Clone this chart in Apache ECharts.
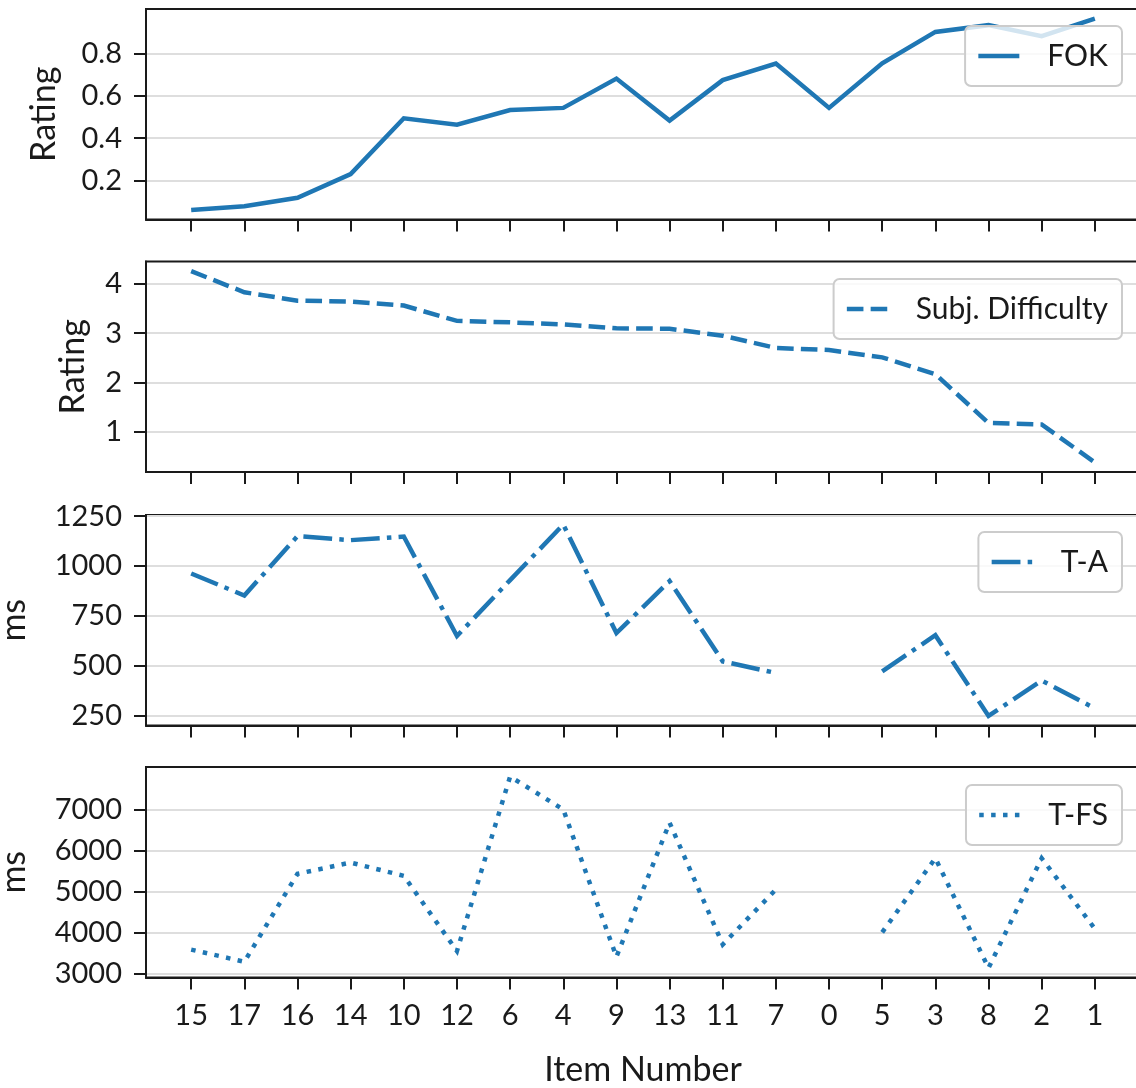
<!DOCTYPE html>
<html>
<head>
<meta charset="utf-8">
<script src="https://cdn.jsdelivr.net/npm/echarts@6/dist/echarts.min.js"></script>
<style>
  html, body { margin: 0; padding: 0; background: #ffffff; }
  #chart { width: 1136px; height: 1088px; }
</style>
</head>
<body>
<div id="chart"></div>
<script>
// Items in presentation order (sorted by FOK rating)
const items = ['15', '17', '16', '14', '10', '12', '6', '4', '9', '13', '11', '7', '0', '5', '3', '8', '2', '1'];

// Feeling-of-knowing rating per item
const fok = [0.062, 0.079, 0.119, 0.231, 0.494, 0.464, 0.533, 0.543, 0.681, 0.483, 0.674, 0.752, 0.543, 0.753, 0.901, 0.933, 0.881, 0.964];

// Subjective difficulty rating per item
const subjDifficulty = [4.26, 3.83, 3.66, 3.64, 3.56, 3.25, 3.22, 3.18, 3.10, 3.09, 2.95, 2.70, 2.66, 2.51, 2.17, 1.18, 1.15, 0.38];

// Response times (ms); item 0 has no measurement
const tA = [963, 853, 1150, 1130, 1148, 650, 930, 1208, 665, 925, 523, 465, null, 473, 654, 250, 427, 288];
const tFS = [3595, 3300, 5436, 5710, 5388, 3560, 7800, 7000, 3420, 6679, 3720, 5055, null, 4015, 5816, 3150, 5816, 4103];

// Y tick values per panel
const fokTicks = [0.2, 0.4, 0.6, 0.8];
const difficultyTicks = [1, 2, 3, 4];
const tATicks = [250, 500, 750, 1000, 1250];
const tFSTicks = [3000, 4000, 5000, 6000, 7000];

const FONT = 'Lato';
const BLUE = '#1f77b4';
const INK = '#1a1a1a';
const LW = 4.5;

// Axis limits with a 5% margin around the data
function padded(values) {
  const v = values.filter(x => x !== null);
  const lo = Math.min(...v), hi = Math.max(...v), m = (hi - lo) * 0.05;
  return [lo - m, hi + m];
}
const xRange = padded(items.map((_, i) => i));
const xTickValues = items.map((_, i) => i);

const panels = [
  { name: 'FOK', values: fok, ticks: fokTicks, title: 'Rating', nameGap: 85, dash: 'solid', top: 9, legendTop: 26 },
  { name: 'Subj. Difficulty', values: subjDifficulty, ticks: difficultyTicks, title: 'Rating', nameGap: 56, dash: [16.6, 7.2], top: 261.5, legendTop: 279 },
  { name: 'T-A', values: tA, ticks: tATicks, title: 'ms', nameGap: 115, dash: [28.8, 7.2, 4.5, 7.2], top: 515, legendTop: 532 },
  { name: 'T-FS', values: tFS, ticks: tFSTicks, title: 'ms', nameGap: 115, dash: [4.5, 7.4], top: 767, legendTop: 785 }
];

const grid = [], xAxis = [], yAxis = [], series = [], legend = [];

panels.forEach((p, k) => {
  const last = k === panels.length - 1;
  const yr = padded(p.values);
  grid.push({
    left: 146, width: 994, top: p.top, height: 210.5,
    outerBoundsMode: 'none', containLabel: false,
    show: true, borderColor: INK, borderWidth: 2, backgroundColor: 'transparent'
  });
  xAxis.push({
    type: 'value', gridIndex: k, min: xRange[0], max: xRange[1],
    axisLine: { show: true, onZero: false, lineStyle: { color: INK, width: 2 } },
    axisTick: { show: true, customValues: xTickValues, length: 12, lineStyle: { color: INK, width: 2 } },
    axisLabel: {
      show: last, customValues: xTickValues, margin: 24,
      fontFamily: FONT, fontSize: 29, color: INK,
      formatter: v => items[Math.round(v)]
    },
    splitLine: { show: false },
    name: last ? 'Item Number' : '',
    nameLocation: 'middle', nameGap: 76,
    nameTextStyle: { fontFamily: FONT, fontSize: 34, color: INK }
  });
  yAxis.push({
    type: 'value', gridIndex: k, min: yr[0], max: yr[1],
    axisLine: { show: true, onZero: false, lineStyle: { color: INK, width: 2 } },
    axisTick: { show: true, customValues: p.ticks, length: 12, lineStyle: { color: INK, width: 2 } },
    axisLabel: {
      customValues: p.ticks, margin: 24,
      fontFamily: FONT, fontSize: 29, color: INK,
      formatter: v => String(v)
    },
    splitLine: { show: true, lineStyle: { color: '#dedede', width: 2 } },
    name: p.title, nameLocation: 'middle', nameGap: p.nameGap,
    nameTextStyle: { fontFamily: FONT, fontSize: 34, color: INK }
  });
  series.push({
    name: p.name, type: 'line', xAxisIndex: k, yAxisIndex: k,
    data: p.values.map((v, i) => [i, v === null ? '-' : v]),
    symbol: 'none', connectNulls: false, animation: false,
    lineStyle: { color: BLUE, width: LW, type: p.dash, cap: 'butt', join: 'miter' },
    itemStyle: { color: BLUE }
  });
  legend.push({
    data: [p.name], right: 14, top: p.legendTop,
    orient: 'horizontal', padding: [15, 14, 15, 11],
    itemWidth: 41, itemHeight: 28,
    backgroundColor: 'rgba(255,255,255,0.8)',
    borderColor: '#cccccc', borderWidth: 2, borderRadius: 6,
    selectedMode: false,
    itemStyle: { color: 'rgba(0,0,0,0)', borderWidth: 0, opacity: 0 },
    lineStyle: { color: BLUE, width: LW, type: p.dash, cap: 'butt' },
    textStyle: { fontFamily: FONT, fontSize: 30, color: INK, padding: [0, 0, 0, 23] }
  });
});

const chart = echarts.init(document.getElementById('chart'), null, { renderer: 'canvas' });
chart.setOption({
  backgroundColor: '#ffffff',
  animation: false,
  grid, xAxis, yAxis, series, legend
});
</script>
</body>
</html>
